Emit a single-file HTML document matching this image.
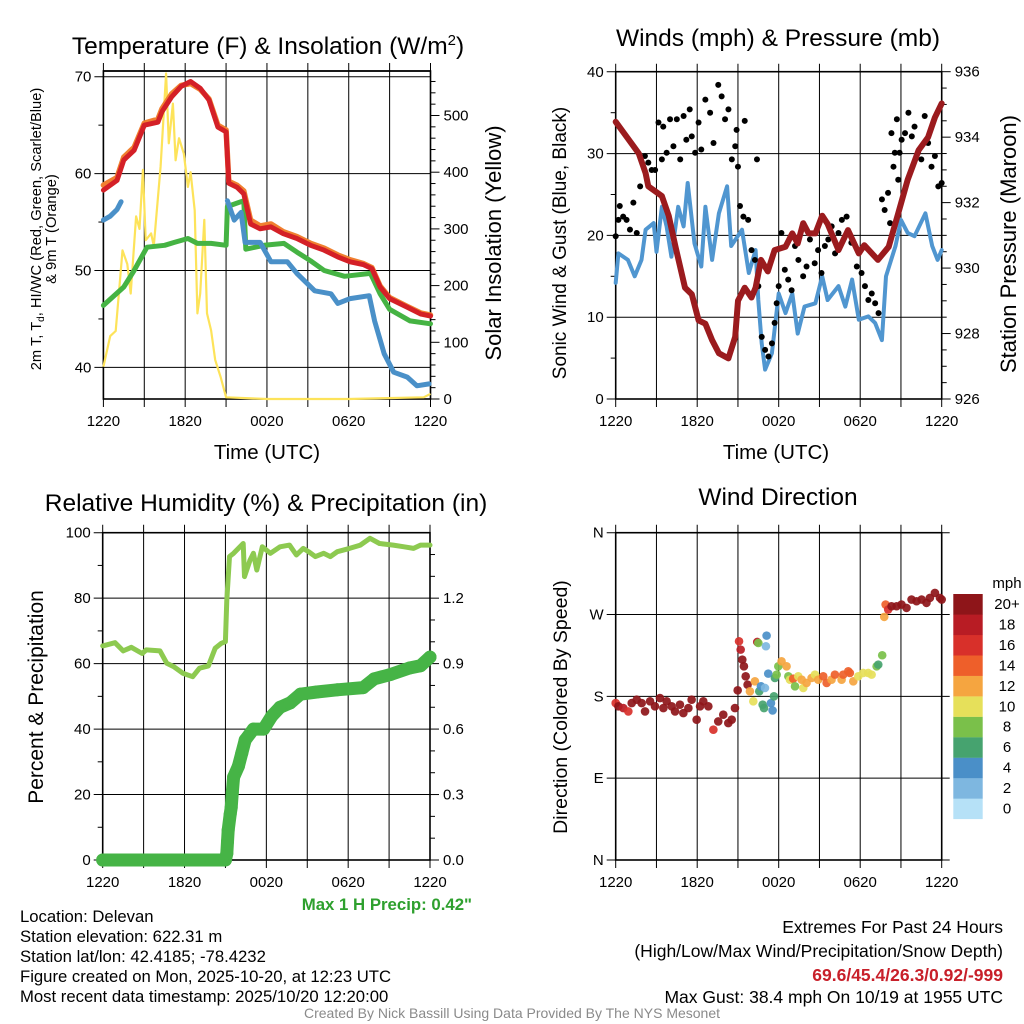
<!DOCTYPE html>
<html><head><meta charset="utf-8">
<style>
html,body{margin:0;padding:0;background:#fff;}
svg{display:block;font-family:"Liberation Sans",Arial,sans-serif;}
</style></head>
<body>
<svg id="fig" width="1024" height="1024" viewBox="0 0 1024 1024" xmlns="http://www.w3.org/2000/svg">
<g id="layer"></g>
<g font-family="Liberation Sans, Arial, sans-serif">
<text x="268" y="54" font-size="24.5" text-anchor="middle">Temperature (F) &amp; Insolation (W/m<tspan dy="-9" font-size="15">2</tspan><tspan dy="9">)</tspan></text>
<text x="778" y="46" font-size="24.5" text-anchor="middle">Winds (mph) &amp; Pressure (mb)</text>
<text x="266" y="511" font-size="24.5" text-anchor="middle">Relative Humidity (%) &amp; Precipitation (in)</text>
<text x="778" y="505" font-size="24.5" text-anchor="middle">Wind Direction</text>
<text x="267" y="459" font-size="20.5" text-anchor="middle">Time (UTC)</text>
<text x="776" y="459" font-size="20.5" text-anchor="middle">Time (UTC)</text>
<text transform="translate(41,229) rotate(-90)" font-size="14.7" text-anchor="middle">2m T, T<tspan dy="3" font-size="10">d</tspan><tspan dy="-3">, HI/WC (Red, Green, Scarlet/Blue)</tspan></text>
<text transform="translate(56,229) rotate(-90)" font-size="14.7" text-anchor="middle">&amp; 9m T (Orange)</text>
<text transform="translate(501,243) rotate(-90)" font-size="22" text-anchor="middle">Solar Insolation (Yellow)</text>
<text transform="translate(566,243) rotate(-90)" font-size="19" text-anchor="middle">Sonic Wind &amp; Gust (Blue, Black)</text>
<text transform="translate(1016,244) rotate(-90)" font-size="22" text-anchor="middle">Station Pressure (Maroon)</text>
<text transform="translate(43,697) rotate(-90)" font-size="21" text-anchor="middle">Percent &amp; Precipitation</text>
<text transform="translate(567,707) rotate(-90)" font-size="19.5" text-anchor="middle">Direction (Colored By Speed)</text>
<text x="472" y="910" font-size="16.8" font-weight="bold" fill="#2ea02e" text-anchor="end">Max 1 H Precip: 0.42"</text>
<g font-size="16.7">
<text x="20" y="922">Location: Delevan</text>
<text x="20" y="942">Station elevation: 622.31 m</text>
<text x="20" y="962">Station lat/lon: 42.4185; -78.4232</text>
<text x="20" y="982">Figure created on Mon, 2025-10-20, at 12:23 UTC</text>
<text x="20" y="1002">Most recent data timestamp: 2025/10/20 12:20:00</text>
</g>
<g font-size="17.5" text-anchor="end">
<text x="1003" y="933">Extremes For Past 24 Hours</text>
<text x="1003" y="957">(High/Low/Max Wind/Precipitation/Snow Depth)</text>
<text x="1003" y="981" font-weight="bold" fill="#c8202a">69.6/45.4/26.3/0.92/-999</text>
<text x="1003" y="1003">Max Gust: 38.4 mph On 10/19 at 1955 UTC</text>
</g>
<text x="512" y="1018" font-size="14" fill="#8a8a8a" text-anchor="middle">Created By Nick Bassill Using Data Provided By The NYS Mesonet</text>
</g>
</svg>
<script>
// ---------- Panel 1: temperature & insolation ----------
const tempTimes=[0,1,1.5,2.25,3,4,4.3,5,5.7,6.4,7.1,7.75,8.4,9,9.2,9.8,10.3,10.8,11.5,12.3,13.2,14.2,15.2,16.2,17.2,18.1,19.1,19.7,20.3,21,22.3,23.3,24];
const tempRed=[58.3,59.3,61.4,62.4,65,65.3,66.4,67.9,69,69.5,68.8,67.6,64.8,64.3,59,58.6,57.9,54.8,54.3,54.5,53.8,53.3,52.6,52.1,51.4,50.9,50.6,50.2,48.3,47.1,46.2,45.5,45.3];
const tempOrange=[58.8,59.6,61.7,62.7,65.2,65.6,66.7,68.2,69.1,69.3,68.7,67.7,65.0,64.5,59.2,58.8,58.2,55.2,54.6,54.8,54.0,53.5,52.8,52.3,51.6,51.1,50.7,50.3,48.4,47.2,46.3,45.6,45.4];
const greenTimes=[0,1.5,2.25,3.2,4.5,5.2,6.2,6.9,7.9,9,9.1,10.3,10.45,11.8,13.25,14.2,15.2,16.2,17.7,19.6,20.3,21,22.5,24];
const greenVals=[46.4,48.3,50,52.4,52.6,52.9,53.3,52.8,52.8,52.6,56.6,57.2,52.2,52.6,52.8,51.9,51.0,50,49.4,49.7,47.6,46.0,44.8,44.5];
const blueTimesA=[0,0.5,1,1.3];
const blueValsA=[55.2,55.6,56.3,57.1];
const blueTimesB=[9.1,9.6,10.1,10.4,11.5,12.3,13.5,14.2,15.5,16.7,17.2,18.1,19.5,19.9,20.6,21.3,22.3,23,23.9];
const blueValsB=[57.2,55.2,56,52.9,52.9,50.9,50.9,49.7,47.9,47.6,46.6,47.1,47.4,44.8,41.4,39.5,39,38.1,38.3];
const solarTimes=[0,0.5,0.9,1.4,1.75,2,2.4,2.65,2.9,3.1,3.5,3.7,4.2,4.6,4.8,5.1,5.3,5.55,5.9,6.2,6.4,6.7,6.9,7.1,7.4,7.6,7.9,8.2,8.6,9,12,18,23.5,24];
const solarVals=[57,111,120,262,238,186,322,300,404,280,292,270,410,574,451,521,421,460,433,374,400,333,151,186,316,151,121,69,39,3,0,0,3,9];
const tempTicks=[40,50,60,70];
const solarTicks=[0,100,200,300,400,500];
const timeLabels=["1220","1820","0020","0620","1220"];
// ---------- Panel 2: winds & pressure ----------
const presTimes=[0,0.9,1.7,2.2,2.4,3.4,3.9,4.4,5.1,5.6,6.1,6.6,7.1,7.6,8.3,8.8,9,9.5,10,10.3,10.7,11.2,11.7,12.5,13,13.4,13.8,14.2,14.7,15.2,15.6,16.4,17.1,17.9,18.3,19.3,20.1,20.8,21.5,22.3,23,23.5,24];
const presVals=[934.47,933.96,933.5,932.9,932.5,932.2,931.6,930.65,929.4,929.2,928.4,928.3,927.8,927.4,927.24,927.9,929,929.4,929.1,929.4,930.25,929.9,930.55,930.65,931.06,930.75,931.37,931.06,931.06,931.6,931.35,930.55,931.16,930.45,930.7,930.25,930.65,931.67,932.7,933.6,934,934.6,935.03];
const windTimes=[0,0.2,0.9,1.4,1.9,2.2,2.8,3,3.4,3.75,4.1,4.6,5,5.3,5.8,6.3,6.6,7.1,7.6,8.2,8.5,9.3,9.8,10.3,10.5,10.75,11,11.5,12,12.5,13,13.4,13.9,14.7,15.2,15.6,16.4,16.9,17.4,17.9,18.6,19.1,19.6,19.9,20.6,21,21.5,22,22.8,23.3,23.7,24];
const windVals=[14.2,17.8,17,15,17,20.7,21.5,18,23.5,21.1,17.4,23.5,21.1,26.4,19,16.2,23.5,17,22.7,26,18.7,20.7,15.4,18.2,12.1,6.8,3.6,5.6,12.9,10.5,12.9,8,11.3,11.7,15,12.1,13.8,11.3,14.6,9.7,10.1,9.3,7.2,15,18.7,21.9,20.3,19.9,22.7,18.7,17,18.2];
const gustTimes=[0,0.2,0.3,0.55,0.8,1.05,1.3,1.55,1.8,2.15,2.4,2.65,2.9,3.15,3.4,3.5,3.75,4.0,4.25,4.5,4.75,5.0,5.2,5.45,5.6,5.85,6.1,6.3,6.6,6.95,7.2,7.55,7.8,8.05,8.3,8.55,8.8,8.9,9.0,9.15,9.4,9.5,9.75,10.0,10.25,10.4,10.5,10.75,11.0,11.25,11.5,11.7,11.85,12.0,12.2,12.45,12.7,12.95,13.2,13.45,13.8,14.05,14.3,14.65,14.9,15.15,15.4,15.65,15.9,16.15,16.4,16.65,17.0,17.35,17.75,18.1,18.35,18.6,18.85,19.1,19.35,19.6,19.8,20.05,20.2,20.3,20.45,20.55,20.7,20.8,20.9,21.05,21.3,21.55,21.8,22.0,22.25,22.5,22.75,23.0,23.25,23.5,23.75,24.0];
const gustVals=[19.9,21.9,23.6,22.3,21.9,20.7,24.0,20.3,26.0,29.7,28.9,28.0,28.0,33.8,29.3,33.3,30.1,34.2,30.9,34.2,29.3,34.6,31.7,35.4,32.1,30.1,33.8,30.5,36.6,35.0,31.3,38.4,37.0,34.2,35.4,29.3,30.9,32.9,28.4,23.6,22.3,34.0,21.9,18.2,17.0,29.3,13.8,7.6,6.0,5.2,6.8,9.3,11.7,13.8,20.3,15.8,14.6,13.3,18.7,17.0,15.0,16.2,19.5,16.6,18.2,15.4,18.7,19.5,21.1,17.8,20.3,21.9,22.3,19.1,16.2,15.4,13.8,12.1,12.9,11.7,10.5,24.4,23.1,25.2,21.5,32.5,28.4,30.1,34.2,26.8,30.1,31.7,32.5,35.0,32.1,33.3,30.1,29.3,34.6,31.3,28.4,29.7,26.0,26.4];
const windTicks=[0,10,20,30,40];
const presTicks=[926,928,930,932,934,936];
// ---------- Panel 3: RH & precipitation ----------
const rhTimes=[0,0.9,1.5,2.1,2.9,3.2,4.2,4.7,5.2,5.9,6.6,7.1,7.75,8.25,8.7,9,9.1,9.3,9.6,10.3,10.4,10.8,11.05,11.3,11.7,12.3,13,13.7,14.2,14.7,15.1,15.6,16.2,16.7,17.2,18.1,18.9,19.6,20.3,21.3,22.1,22.8,23.3,24];
const rhVals=[65.4,66.4,63.9,65,63.1,64.2,63.9,60.1,59.1,57,56,58.6,59.3,64.7,66.2,66.7,79.4,92.7,93.7,96.7,86.6,91.6,93.7,88.6,95.7,93.7,95.7,96.2,93.2,95.2,94.2,92.7,93.7,92.7,94.2,95.2,96.2,98.3,96.7,96.2,95.7,95.2,96.2,96.2];
const precipTimes=[0,1,2,3,4,5,6,7,8,9,9.1,9.15,9.2,9.35,9.42,9.5,9.6,9.95,10.2,10.45,11.05,11.8,12.4,13,13.75,14.5,15.7,17.2,19.1,19.9,21.1,22.5,23.3,24];
const precipVals=[0,0,0,0,0,0,0,0,0,0,0.03,0.084,0.137,0.21,0.24,0.31,0.38,0.43,0.49,0.55,0.6,0.6,0.66,0.7,0.72,0.76,0.77,0.78,0.79,0.83,0.85,0.88,0.89,0.93];
const rhTicks=[0,20,40,60,80,100];
const precipTicks=[0,0.3,0.6,0.9,1.2];
const precipTickLabels=["0.0","0.3","0.6","0.9","1.2"];
// ---------- Panel 4: wind direction ----------
const dirTimes=[0,0.2,0.56,0.93,1.18,1.55,1.91,2.16,2.53,2.89,3.26,3.51,3.75,4.12,4.37,4.73,4.98,5.35,5.59,5.96,6.21,6.45,6.82,7.19,7.55,7.92,8.29,8.54,8.78,8.98,9.08,9.2,9.32,9.44,9.57,9.71,9.88,10.13,10.25,10.42,10.5,10.57,10.69,10.82,10.92,10.99,11.11,11.06,11.23,11.43,11.55,11.65,11.72,11.85,11.97,12.21,12.58,12.71,12.83,13.07,13.2,13.44,13.69,13.81,14.05,14.42,14.67,14.91,15.28,15.53,15.89,16.14,16.63,16.75,17.12,17.24,17.49,17.86,18.22,18.59,18.84,19.21,19.33,19.62,19.77,19.87,20.06,20.31,20.68,21.04,21.41,21.78,22.15,22.52,22.88,23.13,23.5,23.87,24];
const dirVals=[172.6,169,167.1,163.4,172.6,176.3,172.6,163.4,174.5,169,178.1,167.1,174.5,169,163.4,170.8,161.6,167.1,176.3,154.3,169,174.5,169,143.3,152.4,159.8,150.6,154.3,167.1,186.6,240.6,231.4,220.4,213,202,192.8,185.5,174.5,196.5,239.8,238.7,185.5,191,170.8,167.1,189.2,246.8,235.1,205,172.6,164.5,180,200.2,203.9,213,218.5,213,202,198.3,199.4,191,202,198.3,189.2,194.7,200.2,203.9,198.3,202,194.7,198.3,203.9,198.3,203.9,207.5,205.7,196.5,202,205.7,205.7,203.9,213,214.9,225.2,267.4,281,275.5,279.1,279.1,281,277.3,286.5,284.6,286.5,282.8,288.3,293.8,288.3,286.5];
const dirSpeeds=[16,20,18,16,20,20,20,20,20,20,20,20,20,20,20,20,20,20,20,20,20,20,20,16,20,20,20,20,20,20,16,18,20,20,20,20,12,10,12,18,8,6,4,6,6,2,4,2,4,4,4,6,6,8,8,12,12,8,10,14,8,10,12,10,12,12,10,12,14,14,12,14,12,14,14,14,12,10,10,10,10,8,6,8,12,14,16,20,20,20,20,20,20,20,20,20,20,20,20];
const dirTicks=[0,90,180,270,360];
const dirTickLabels=["N","E","S","W","N"];
const speedBins=["0","2","4","6","8","10","12","14","16","18","20+"];
const speedColors=["#b6e1f7","#7eb7e0","#4a8fc8","#46a36f","#7ac04a","#e6e05a","#f5a540","#ee5f2a","#d8302a","#b81c24","#8e1519"];

const NS="http://www.w3.org/2000/svg";
const layer=document.getElementById('layer');
const TF=15;
function el(tag,attrs,parent,text){const e=document.createElementNS(NS,tag);for(const k in attrs)e.setAttribute(k,attrs[k]);if(text!==undefined)e.textContent=text;(parent||layer).appendChild(e);return e;}
function lin(d0,d1,r0,r1){return v=>r0+(v-d0)*(r1-r0)/(d1-d0);}
function pathD(xs,ys,fx,fy){return xs.map((t,i)=>(i?'L':'M')+fx(t).toFixed(1)+' '+fy(ys[i]).toFixed(1)).join(' ');}

function frame(g,x0,x1,y0,y1,opts){
  const fx=lin(0,24,x0,x1);
  for(let h=0;h<=24;h+=3){const x=fx(h);el('line',{x1:x,x2:x,y1:y0-(opts.topExt||8),y2:y1+8,stroke:'#000','stroke-width':1},g);}
  timeLabels.forEach((s,i)=>{const t=el('text',{x:fx(i*6),y:y1+27,'font-size':TF,'text-anchor':'middle'},g,s);
    
    });
  el('rect',{x:x0,y:y0,width:x1-x0,height:y1-y0,fill:'none',stroke:'#000','stroke-width':1.6},g);
  return fx;
}
function leftAxis(g,x0,x1,fy,ticks,labels,minor,gridRight){
  ticks.forEach((v,i)=>{const y=fy(v);
    el('line',{x1:x0-9,x2:gridRight?x1+(gridRight):x1,y1:y,y2:y,stroke:'#000','stroke-width':1},g);
    const t=el('text',{x:x0-12,y:y+5,'font-size':TF,'text-anchor':'end'},g,labels?labels[i]:String(v));
    
    });
  (minor||[]).forEach(v=>{const y=fy(v);el('line',{x1:x0-5,x2:x0,y1:y,y2:y,stroke:'#000','stroke-width':1},g);});
}
function rightAxis(g,x1,fy,ticks,labels,minor){
  ticks.forEach((v,i)=>{const y=fy(v);
    el('line',{x1:x1,x2:x1+9,y1:y,y2:y,stroke:'#000','stroke-width':1},g);
    const t=el('text',{x:x1+13,y:y+5,'font-size':TF,'text-anchor':'start'},g,labels?labels[i]:String(v));
    
    });
  (minor||[]).forEach(v=>{const y=fy(v);el('line',{x1:x1,x2:x1+5,y1:y,y2:y,stroke:'#000','stroke-width':1},g);});
}
function range(a,b,s){const r=[];for(let v=a;v<=b+1e-9;v+=s)r.push(+v.toFixed(3));return r;}

// ===== Panel 1 =====
(function(){
  const g=el('g',{});
  
  
  const x0=103.4,x1=430.5,y0=71,y1=399;
  const fy=lin(70,40,76.7,367.4), fw=lin(0,500,399,115.5);
  const fx=frame(g,x0,x1,y0,y1,{topExt:8});
  leftAxis(g,x0,x1,fy,tempTicks,null,[45,55,65]);
  rightAxis(g,x1,fw,solarTicks,null,range(20,560,20).filter(v=>v%100));
  const ys=el('path',{d:pathD(solarTimes,solarVals,fx,fw),fill:'none',stroke:'#fde35a','stroke-width':2.2,'stroke-linejoin':'round'},g);
  
  const gr=el('path',{d:pathD(greenTimes,greenVals,fx,fy),fill:'none',stroke:'#45b343','stroke-width':5,'stroke-linejoin':'round','stroke-linecap':'round'},g);
  
  const b1=el('path',{d:pathD(blueTimesA,blueValsA,fx,fy),fill:'none',stroke:'#4a90c8','stroke-width':5,'stroke-linecap':'round'},g);
  
  const b2=el('path',{d:pathD(blueTimesB,blueValsB,fx,fy),fill:'none',stroke:'#4a90c8','stroke-width':5,'stroke-linejoin':'round','stroke-linecap':'round'},g);
  
  const o=el('path',{d:pathD(tempTimes,tempOrange,fx,fy),fill:'none',stroke:'#f08030','stroke-width':5.5,'stroke-linejoin':'round','stroke-linecap':'round'},g);
  
  const r=el('path',{d:pathD(tempTimes,tempRed,fx,fy),fill:'none',stroke:'#d42027','stroke-width':5,'stroke-linejoin':'round','stroke-linecap':'round'},g);
  
  el('line',{x1:x0,x2:x1,y1:y0,y2:y0,stroke:'#000','stroke-width':1.5},g);
})();
// ===== Panel 2 =====
(function(){
  const g=el('g',{});
  
  
  const x0=615.7,x1=941.7,y0=71.7,y1=399;
  const fy=lin(0,40,399,71.8), fp=lin(926,936,399,71.7);
  const fx=frame(g,x0,x1,y0,y1,{topExt:8});
  leftAxis(g,x0,x1,fy,windTicks,null,[5,15,25,35]);
  rightAxis(g,x1,fp,presTicks,null,range(926.5,935.5,0.5).filter(v=>Math.abs(v%2)>0.01));
  const w=el('path',{d:pathD(windTimes,windVals,fx,fy),fill:'none',stroke:'#5096d0','stroke-width':4,'stroke-linejoin':'round','stroke-linecap':'round'},g);
  
  gustTimes.forEach((t,i)=>{const c=el('circle',{cx:fx(t),cy:fy(gustVals[i]),r:3,fill:'#000'},g);
    
    });
  const p=el('path',{d:pathD(presTimes,presVals,fx,fp),fill:'none',stroke:'#9b1b1e','stroke-width':6,'stroke-linejoin':'round','stroke-linecap':'round'},g);
  
})();
// ===== Panel 3 =====
(function(){
  const g=el('g',{});
  
  
  const x0=102.7,x1=430,y0=532.7,y1=860;
  const fy=lin(0,100,860,532.7), fp=lin(0,1.5,860,532.7);
  const fx=frame(g,x0,x1,y0,y1,{topExt:8});
  leftAxis(g,x0,x1,fy,rhTicks,null,[10,30,50,70,90]);
  rightAxis(g,x1,fp,precipTicks,precipTickLabels,[0.1,0.2,0.4,0.5,0.7,0.8,1.0,1.1,1.3,1.4]);
  const rh=el('path',{d:pathD(rhTimes,rhVals,fx,fy),fill:'none',stroke:'#8dca50','stroke-width':5,'stroke-linejoin':'round','stroke-linecap':'round'},g);
  
  const pl=el('path',{d:pathD(precipTimes,precipVals,fx,fp),fill:'none',stroke:'#46b446','stroke-width':13,'stroke-linejoin':'round','stroke-linecap':'round'},g);
  
  precipTimes.forEach((t,i)=>{const c=el('circle',{cx:fx(t),cy:fp(precipVals[i]),r:6.5,fill:'#46b446'},g);
    
    });
})();
// ===== Panel 4 =====
(function(){
  const g=el('g',{});
  
  
  const x0=615.7,x1=941.7,y0=532.7,y1=860;
  const fy=lin(0,360,860,532.7);
  const fx=frame(g,x0,x1,y0,y1,{topExt:8});
  leftAxis(g,x0,x1,fy,dirTicks,dirTickLabels,[],8);
  dirTimes.forEach((t,i)=>{const bin=Math.min(10,Math.round(dirSpeeds[i]/2));
    const c=el('circle',{cx:fx(t),cy:fy(dirVals[i]),r:4.3,fill:speedColors[bin],'fill-opacity':0.92},g);
    
    });
  const cb=el('g',{},g);
  
  
  const t=el('text',{x:1007,y:588,'font-size':TF,'text-anchor':'middle'},cb,'mph');
  
  for(let i=0;i<11;i++){const top=594+(10-i)*20.45;
    el('rect',{x:953.3,y:top,width:29.4,height:20.6,fill:speedColors[i]},cb);
    const l=el('text',{x:1007,y:top+15,'font-size':TF,'text-anchor':'middle'},cb,speedBins[i]);
    }
})();
</script>
</body></html>
